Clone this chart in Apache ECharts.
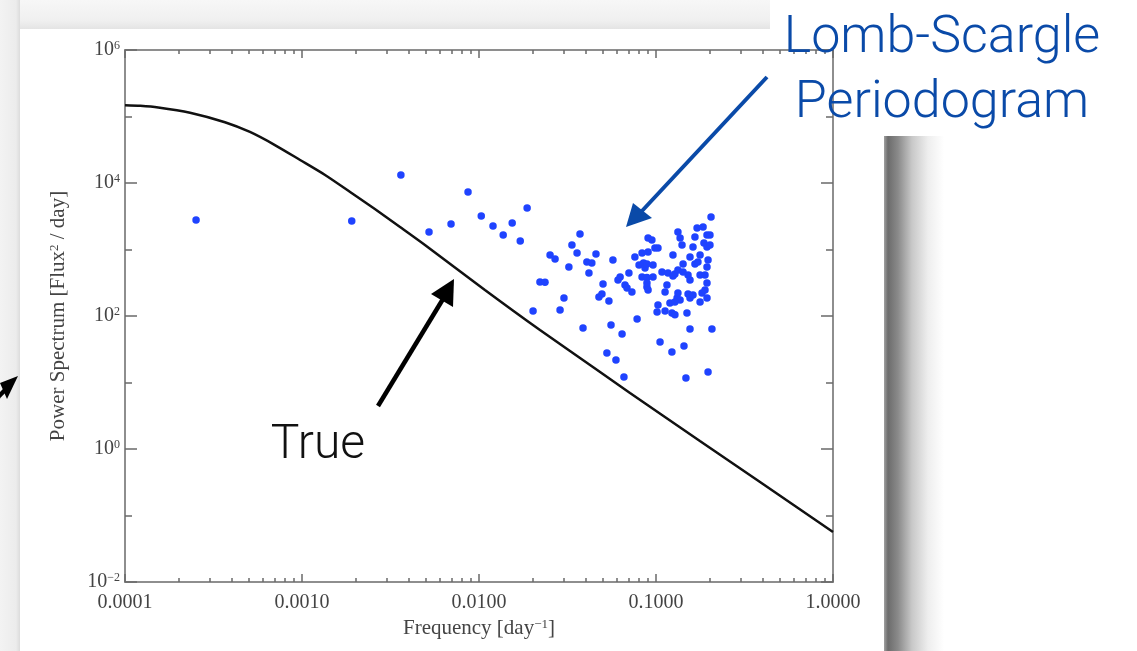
<!DOCTYPE html>
<html>
<head>
<meta charset="utf-8">
<script src="https://cdn.jsdelivr.net/npm/echarts@6/dist/echarts.min.js"></script>
<style>
  html,body{margin:0;padding:0;}
  body{width:1137px;height:651px;overflow:hidden;background:#fff;position:relative;}
  #topshade{position:absolute;left:0;top:0;width:770px;height:29px;background:linear-gradient(#f7f7f7,#f0f0f0 70%,#e4e4e4);}
  #leftshade{position:absolute;left:0;top:0;width:20px;height:651px;background:linear-gradient(to right,#f3f3f3,#ececec 80%,#dcdcdc);}
  #card{position:absolute;left:20px;top:29px;width:864px;height:622px;background:#fff;}
  #rightshade{position:absolute;left:884px;top:136px;width:62px;height:515px;
    background:linear-gradient(to right,#a0a0a0 0px,#6c6c6c 4px,#8a8a8a 14px,#c8c8c8 28px,#eeeeee 44px,#ffffff 60px);}
  #chart{position:absolute;left:0;top:0;width:1137px;height:651px;}
</style>
</head>
<body>
<div id="topshade"></div>
<div id="leftshade"></div>
<div id="card"></div>
<div id="rightshade"></div>
<div id="chart"></div>
<script>
// ---- data ----
const trueFreq  = [0.0001, 0.000122, 0.000154, 0.000233, 0.000367, 0.000508, 0.000703, 0.000975, 0.00135, 0.00187, 0.00258, 0.00358, 0.00495, 0.0108, 0.0221, 0.0483, 0.0713, 0.177, 0.387, 1.0];
const truePower = [148000, 145000, 137000, 114000, 82000, 58500, 37200, 22200, 13200, 7330, 4060, 2180, 1170, 246, 61.5, 14.4, 6.95, 1.32, 0.319, 0.0565];

const lsFreq = [
  0.000252, 0.00191, 0.00362, 0.00522, 0.00695, 0.00867, 0.0103, 0.0120, 0.0137, 0.0154,
  0.0171, 0.0187, 0.0202, 0.0221, 0.0236, 0.0252, 0.0269, 0.0287, 0.0302, 0.0322,
  0.0335, 0.0358, 0.0372, 0.0387, 0.0407, 0.0434, 0.0418, 0.0458, 0.0476, 0.0495,
  0.0502, 0.0528, 0.0542, 0.0557, 0.0571, 0.0594, 0.0610, 0.0627, 0.0643, 0.0659,
  0.0668, 0.0686, 0.0703, 0.0731, 0.0760, 0.0782, 0.0802, 0.0834, 0.0850, 0.0867,
  0.0834, 0.0889, 0.0889, 0.0902, 0.0902, 0.0889, 0.0948, 0.0986, 0.1026, 0.0902,
  0.0962, 0.0889, 0.1026, 0.1014, 0.1054, 0.1081, 0.1125, 0.1125, 0.1153, 0.1169,
  0.1199, 0.1230, 0.1230, 0.1247, 0.1279, 0.1279, 0.1315, 0.1330, 0.1330, 0.1330,
  0.1368, 0.1368, 0.1403, 0.1422, 0.1439, 0.1476, 0.1496, 0.1517, 0.1517, 0.1556,
  0.1556, 0.1556, 0.1618, 0.1618, 0.1660, 0.1660, 0.1706, 0.1726, 0.1774, 0.1774,
  0.1774, 0.1820, 0.1845, 0.1866, 0.1892, 0.1892, 0.1941, 0.1941, 0.1941, 0.1941,
  0.1968, 0.1968, 0.2018, 0.2046, 0.2070, 0.1247, 0.1422, 0.1556, 0.2018, 0.1941,
  0.1279, 0.0962
];
const lsPower = [
  2780, 2690, 13200, 1830, 2420, 7330, 3190, 2260, 1650, 2500,
  1340, 4210, 119, 324, 322, 826, 719, 123, 187, 546,
  1170, 885, 1710, 66, 649, 627, 444, 855, 193, 214,
  303, 27.8, 168, 73.3, 695, 21.8, 348, 385, 53.6, 12.1,
  292, 264, 444, 230, 771, 90.2, 585, 885, 627, 527,
  385, 380, 273, 1490, 246, 313, 1390, 1050, 1050, 916,
  585, 605, 146, 115, 40.6, 459, 119, 230, 292, 444,
  157, 111, 28.8, 826, 429, 104, 187, 1830, 492, 222,
  1490, 174, 1170, 605, 35.4, 11.7, 111, 414, 214, 348,
  187, 63.8, 1090, 207, 1540, 605, 2100, 649, 826, 414,
  162, 222, 2180, 1250, 414, 246, 1650, 1090, 546, 313,
  695, 14.4, 1650, 3080, 63.8, 400, 459, 771, 1170, 187,
  162, 385
];

const xMajorTicks = [0.0001, 0.001, 0.01, 0.1, 1];
const xMinorTicks = [];
[0.0001, 0.001, 0.01, 0.1].forEach(d => { for (let k = 2; k <= 9; k++) xMinorTicks.push(d * k); });
const yMajorTicks = [0.01, 1, 100, 10000, 1000000];
const yMinorTicks = [0.1, 10, 1000, 100000];

// ---- chart ----
const AXIS_COLOR = '#8e8e8e';
const TICK_COLOR = '#6a6a6a';
const SERIF = '"Liberation Serif", "DejaVu Serif", serif';

function xAx(pos, ticks, len, withLabels, withLine) {
  const a = {
    type: 'log', logBase: 10, min: 0.0001, max: 1, position: pos, gridIndex: 0,
    axisLine: { show: withLine, lineStyle: { color: AXIS_COLOR, width: 2 } },
    axisTick: { show: true, inside: true, length: len, customValues: ticks, lineStyle: { color: TICK_COLOR, width: 1.5 } },
    axisLabel: { show: false },
    splitLine: { show: false }, minorTick: { show: false }, minorSplitLine: { show: false }
  };
  if (withLabels) {
    a.axisLabel = {
      show: true, customValues: ticks, margin: 11,
      fontFamily: SERIF, fontSize: 20, color: '#444',
      formatter: v => Number(v).toFixed(4)
    };
    a.name = 'Frequency [day{s|\u22121}]';
    a.nameLocation = 'middle';
    a.nameGap = 34;
    a.nameTextStyle = { fontFamily: SERIF, fontSize: 21, color: '#444',
      rich: { s: { fontFamily: SERIF, fontSize: 13, color: '#444', verticalAlign: 'top', lineHeight: 13 } } };
  }
  return a;
}
function yAx(pos, ticks, len, withLabels, withLine) {
  const a = {
    type: 'log', logBase: 10, min: 0.01, max: 1000000, position: pos, gridIndex: 0,
    axisLine: { show: withLine, lineStyle: { color: AXIS_COLOR, width: 2 } },
    axisTick: { show: true, inside: true, length: len, customValues: ticks, lineStyle: { color: TICK_COLOR, width: 1.5 } },
    axisLabel: { show: false },
    splitLine: { show: false }, minorTick: { show: false }, minorSplitLine: { show: false }
  };
  if (withLabels) {
    a.axisLabel = {
      show: true, customValues: ticks, margin: 5,
      formatter: v => {
        const e = Math.round(Math.log10(v));
        return '{b|10}{s|' + (e < 0 ? '\u2212' + (-e) : e) + '}';
      },
      rich: {
        b: { fontFamily: SERIF, fontSize: 20, color: '#444', verticalAlign: 'bottom' },
        s: { fontFamily: SERIF, fontSize: 12, color: '#444', verticalAlign: 'top' }
      }
    };
    a.name = 'Power Spectrum [Flux{s|2} / day]';
    a.nameLocation = 'middle';
    a.nameGap = 56;
    a.nameTextStyle = { fontFamily: SERIF, fontSize: 21, color: '#444',
      rich: { s: { fontFamily: SERIF, fontSize: 13, color: '#444', verticalAlign: 'top', lineHeight: 13 } } };
  }
  return a;
}

const chart = echarts.init(document.getElementById('chart'), null, { renderer: 'canvas', width: 1137, height: 651 });

const BLUE = '#0a4aa8';
const option = {
  backgroundColor: 'transparent',
  animation: false,
  grid: { left: 125, top: 50, right: 304, bottom: 69, containLabel: false },
  xAxis: [
    xAx('bottom', xMajorTicks, 8, true, true),
    xAx('bottom', xMinorTicks, 4, false, false),
    xAx('top', xMajorTicks, 8, false, true),
    xAx('top', xMinorTicks, 4, false, false)
  ],
  yAxis: [
    yAx('left', yMajorTicks, 12, true, true),
    yAx('left', yMinorTicks, 7, false, false),
    yAx('right', yMajorTicks, 12, false, true),
    yAx('right', yMinorTicks, 7, false, false)
  ],
  series: [
    {
      type: 'line', name: 'True', xAxisIndex: 0, yAxisIndex: 0,
      data: trueFreq.map((f, i) => [f, truePower[i]]),
      smooth: 0.25, showSymbol: false, symbol: 'none',
      lineStyle: { color: '#111', width: 2.5 }, z: 3
    },
    {
      type: 'scatter', name: 'Lomb-Scargle Periodogram', xAxisIndex: 0, yAxisIndex: 0,
      data: lsFreq.map((f, i) => [f, lsPower[i]]),
      symbol: 'circle', symbolSize: 7.5,
      itemStyle: { color: '#1f43ff', opacity: 1 }, z: 4
    }
  ],
  graphic: [
    { type: 'text', x: 942, y: 39, z: 10,
      style: { text: 'Lomb-Scargle', font: '300 52px Roboto', fill: BLUE, textAlign: 'center', textVerticalAlign: 'middle' } },
    { type: 'text', x: 942, y: 104, z: 10,
      style: { text: 'Periodogram', font: '300 52px Roboto', fill: BLUE, textAlign: 'center', textVerticalAlign: 'middle' } },
    { type: 'line', z: 10, shape: { x1: 767, y1: 77, x2: 641, y2: 212 }, style: { stroke: BLUE, lineWidth: 4 } },
    { type: 'polygon', z: 10, shape: { points: [[626, 227], [633, 203], [652, 218]] }, style: { fill: BLUE } },

    { type: 'text', x: 318, y: 446, z: 10,
      style: { text: 'True', font: '300 48px Roboto', fill: '#111', textAlign: 'center', textVerticalAlign: 'middle' } },
    { type: 'line', z: 10, shape: { x1: 378, y1: 406, x2: 443, y2: 299 }, style: { stroke: '#000', lineWidth: 4.5 } },
    { type: 'polygon', z: 10, shape: { points: [[454, 279], [431, 294], [453, 307]] }, style: { fill: '#000' } },

    { type: 'line', z: 10, shape: { x1: -38, y1: 434, x2: 5, y2: 390 }, style: { stroke: '#000', lineWidth: 4.5 } },
    { type: 'polygon', z: 10, shape: { points: [[18, 376], [0, 383], [7, 399]] }, style: { fill: '#000' } }
  ]
};
chart.setOption(option);
</script>
</body>
</html>
